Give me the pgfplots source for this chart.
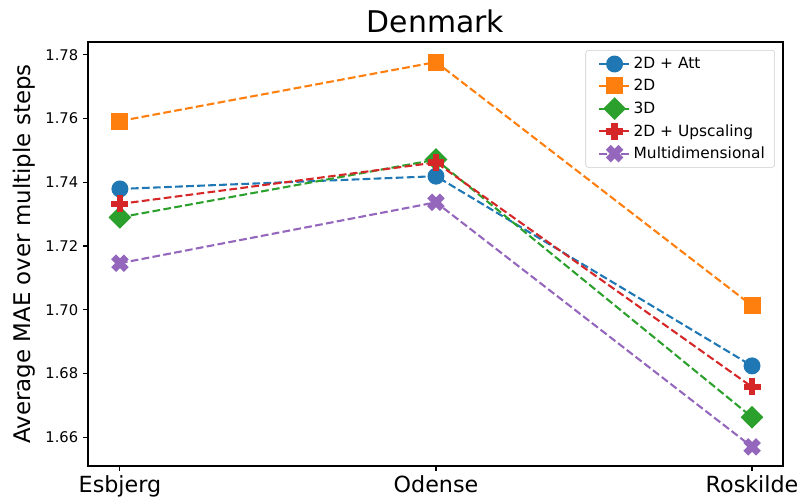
\documentclass[border=0pt]{standalone}
\usepackage{fontspec}
\setmainfont{DejaVu Sans}
\usepackage{pgfplots}
\pgfplotsset{compat=1.18}
\definecolor{c0}{HTML}{1F77B4}
\definecolor{c1}{HTML}{FF7F0E}
\definecolor{c2}{HTML}{2CA02C}
\definecolor{c3}{HTML}{D62728}
\definecolor{c4}{HTML}{9467BD}
\pgfdeclareplotmark{Pfill}{%
  \pgfpathmoveto{\pgfqpoint{-0.3333\pgfplotmarksize}{-\pgfplotmarksize}}%
  \pgfpathlineto{\pgfqpoint{0.3333\pgfplotmarksize}{-\pgfplotmarksize}}%
  \pgfpathlineto{\pgfqpoint{0.3333\pgfplotmarksize}{-0.3333\pgfplotmarksize}}%
  \pgfpathlineto{\pgfqpoint{\pgfplotmarksize}{-0.3333\pgfplotmarksize}}%
  \pgfpathlineto{\pgfqpoint{\pgfplotmarksize}{0.3333\pgfplotmarksize}}%
  \pgfpathlineto{\pgfqpoint{0.3333\pgfplotmarksize}{0.3333\pgfplotmarksize}}%
  \pgfpathlineto{\pgfqpoint{0.3333\pgfplotmarksize}{\pgfplotmarksize}}%
  \pgfpathlineto{\pgfqpoint{-0.3333\pgfplotmarksize}{\pgfplotmarksize}}%
  \pgfpathlineto{\pgfqpoint{-0.3333\pgfplotmarksize}{0.3333\pgfplotmarksize}}%
  \pgfpathlineto{\pgfqpoint{-\pgfplotmarksize}{0.3333\pgfplotmarksize}}%
  \pgfpathlineto{\pgfqpoint{-\pgfplotmarksize}{-0.3333\pgfplotmarksize}}%
  \pgfpathlineto{\pgfqpoint{-0.3333\pgfplotmarksize}{-0.3333\pgfplotmarksize}}%
  \pgfpathclose
  \pgfusepathqfillstroke}
\pgfdeclareplotmark{Xfill}{%
  \pgfpathmoveto{\pgfqpoint{-0.5\pgfplotmarksize}{-\pgfplotmarksize}}%
  \pgfpathlineto{\pgfqpoint{0pt}{-0.5\pgfplotmarksize}}%
  \pgfpathlineto{\pgfqpoint{0.5\pgfplotmarksize}{-\pgfplotmarksize}}%
  \pgfpathlineto{\pgfqpoint{\pgfplotmarksize}{-0.5\pgfplotmarksize}}%
  \pgfpathlineto{\pgfqpoint{0.5\pgfplotmarksize}{0pt}}%
  \pgfpathlineto{\pgfqpoint{\pgfplotmarksize}{0.5\pgfplotmarksize}}%
  \pgfpathlineto{\pgfqpoint{0.5\pgfplotmarksize}{\pgfplotmarksize}}%
  \pgfpathlineto{\pgfqpoint{0pt}{0.5\pgfplotmarksize}}%
  \pgfpathlineto{\pgfqpoint{-0.5\pgfplotmarksize}{\pgfplotmarksize}}%
  \pgfpathlineto{\pgfqpoint{-\pgfplotmarksize}{0.5\pgfplotmarksize}}%
  \pgfpathlineto{\pgfqpoint{-0.5\pgfplotmarksize}{0pt}}%
  \pgfpathlineto{\pgfqpoint{-\pgfplotmarksize}{-0.5\pgfplotmarksize}}%
  \pgfpathclose
  \pgfusepathqfillstroke}
\begin{document}
\begin{tikzpicture}
\useasboundingbox (-63.36pt,-25.2pt) rectangle (514.8pt,335.52pt);
\begin{axis}[
  at={(0pt,0pt)}, anchor=south west,
  scale only axis, width=500.4pt, height=305.3pt,
  xmin=-0.101, xmax=2.098, ymin=1.651, ymax=1.784,
  xtick={0,1,2}, xticklabels={Esbjerg,Odense,Roskilde},
  ytick={1.66,1.68,1.70,1.72,1.74,1.76,1.78},
  yticklabel style={/pgf/number format/fixed, /pgf/number format/fixed zerofill, /pgf/number format/precision=2, font=\fontsize{10.6}{12}\selectfont},
  /pgf/number format/assume math mode=true,
  xticklabel style={font=\fontsize{16}{19}\selectfont},
  tick align=outside, major tick length=3.5pt,
  xtick pos=bottom, ytick pos=left,
  axis line style={line width=0.8pt},
  tick style={line width=0.8pt, black},
  title={Denmark},
  title style={at={(axis description cs:0.5,1)}, anchor=base, yshift=0.7pt, font=\fontsize{21.5}{25}\selectfont},
  ylabel={Average MAE over multiple steps},
  ylabel style={at={(axis description cs:-0.092,0.5)}, anchor=center, font=\fontsize{16.5}{19}\selectfont},
  legend style={at={(axis description cs:1,1)}, anchor=north east, xshift=-5.8pt, yshift=-5.8pt,
    draw=black!20, rounded corners=2pt, fill=white, fill opacity=0.8, text opacity=1,
    font=\fontsize{11.1}{13}\selectfont, row sep=2pt, inner xsep=5pt, inner ysep=3pt},
  legend cell align=left,
  legend image code/.code={\path (-4pt,0pt); \draw[mark repeat=2,mark phase=2,#1, opacity=1, fill opacity=1, draw opacity=1] plot coordinates {(0pt,0pt)(11pt,0pt)(22pt,0pt)};},
  every axis plot/.append style={line width=1.5pt, dash pattern=on 5.55pt off 2.4pt},
]
\addplot[color=c0, mark=*, mark size=5.6pt, mark options={solid, fill=c0, line width=1pt}] coordinates {(0,1.7379) (1,1.7419) (2,1.6824)};
\addlegendentry{2D + Att}
\addplot[color=c1, mark=square*, mark size=5.6pt, mark options={solid, fill=c1, line width=1pt}] coordinates {(0,1.7592) (1,1.7777) (2,1.7013)};
\addlegendentry{2D}
\addplot[color=c2, mark=square*, mark size=5.3pt, mark options={solid, fill=c2, line width=1pt, rotate=45}] coordinates {(0,1.7290) (1,1.7471) (2,1.6663)};
\addlegendentry{3D}
\addplot[color=c3, mark=Pfill, mark size=5.6pt, mark options={solid, fill=c3, line width=1pt}] coordinates {(0,1.7332) (1,1.7462) (2,1.6758)};
\addlegendentry{2D + Upscaling}
\addplot[color=c4, mark=Xfill, mark size=5.6pt, mark options={solid, fill=c4, line width=1pt}] coordinates {(0,1.7146) (1,1.7337) (2,1.6570)};
\addlegendentry{Multidimensional}
\end{axis}
\end{tikzpicture}
\end{document}
